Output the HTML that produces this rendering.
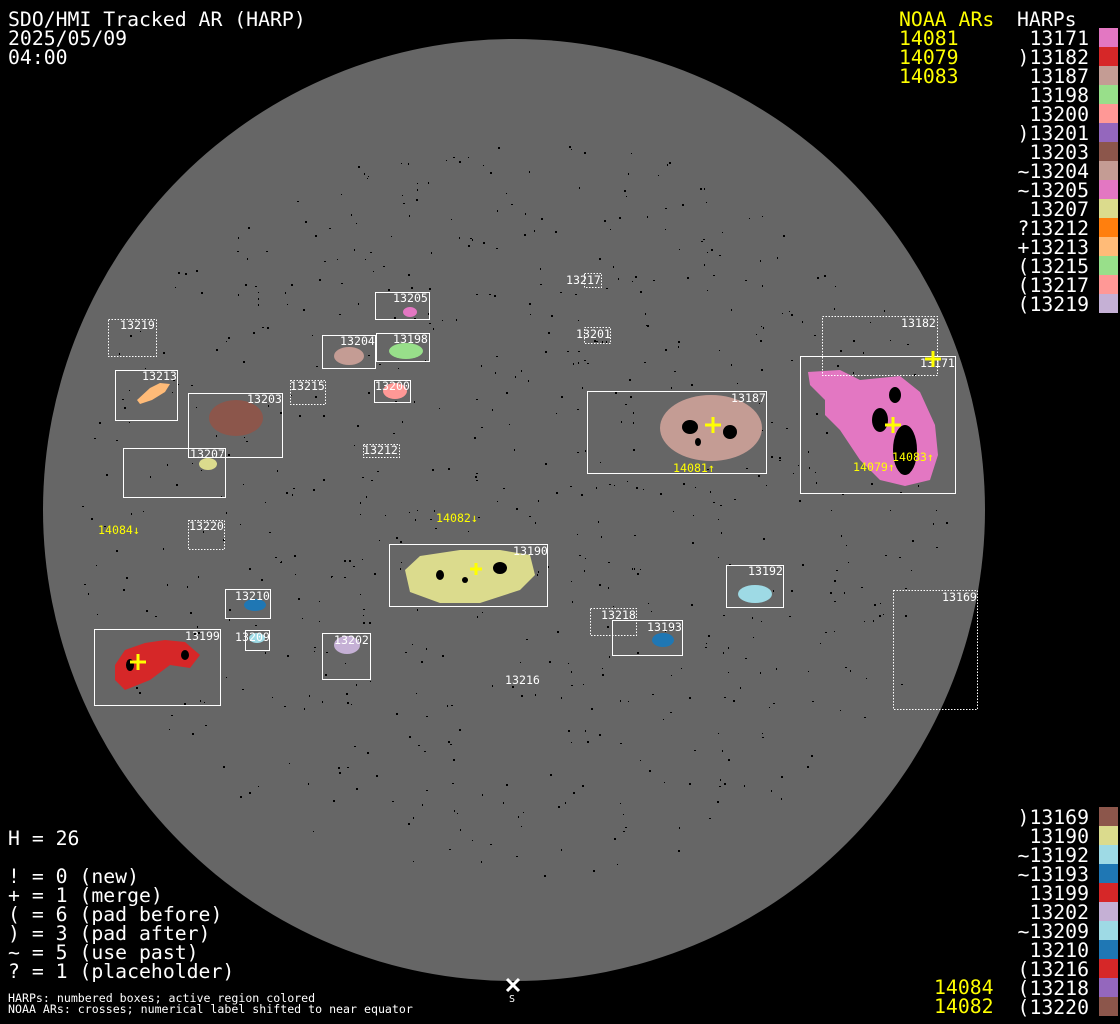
<!DOCTYPE html>
<html><head><meta charset="utf-8"><style>
html,body{margin:0;padding:0;background:#000;}
svg{display:block}
.b{font-family:"DejaVu Sans Mono","Liberation Mono",monospace;font-size:19.8px;fill:#fff}
.y{fill:#ffff00}
.s{font-family:"DejaVu Sans Mono","Liberation Mono",monospace;font-size:11.6px;fill:#fff}
.sy{font-family:"DejaVu Sans Mono","Liberation Mono",monospace;font-size:11.6px;fill:#ffff00}
.bx{fill:none;stroke:#fff;stroke-width:1}
.dt{fill:none;stroke:#fff;stroke-width:1;stroke-dasharray:1.5 1.5}
</style></head><body>
<svg id="s" width="1120" height="1024" viewBox="0 0 1120 1024" xmlns="http://www.w3.org/2000/svg">
<rect width="1120" height="1024" fill="#000"/>
<circle cx="514" cy="510" r="471" fill="#666"/>
<g id="dots"></g>
<ellipse cx="410" cy="312" rx="7" ry="5" fill="#e377c2"/>
<ellipse cx="349" cy="356" rx="15" ry="9" fill="#c49c94"/>
<ellipse cx="406" cy="351" rx="17" ry="8" fill="#98df8a"/>
<ellipse cx="395" cy="391" rx="12" ry="8" fill="#ff9896"/>
<path d="M137,400 L150,388 L160,383 L170,384 L165,392 L152,400 L140,404Z" fill="#ffbb78"/>
<ellipse cx="236" cy="418" rx="27" ry="18" fill="#8c564b"/>
<ellipse cx="711" cy="428" rx="51" ry="33" fill="#c49c94"/>
<path d="M808,372 L840,370 L860,380 L900,376 L920,392 L935,425 L938,455 L930,480 L905,486 L880,480 L860,460 L840,430 L825,415 L825,400 L810,385Z" fill="#e377c2"/>
<ellipse cx="208" cy="464" rx="9" ry="6" fill="#dbdb8d"/>
<path d="M405,570 L420,556 L460,550 L500,550 L530,555 L535,575 L520,590 L480,603 L440,603 L410,592Z" fill="#dbdb8d"/>
<ellipse cx="755" cy="594" rx="17" ry="9" fill="#9edae5"/>
<ellipse cx="255" cy="605" rx="11" ry="6" fill="#1f77b4"/>
<ellipse cx="663" cy="640" rx="11" ry="7" fill="#1f77b4"/>
<ellipse cx="257" cy="638" rx="8" ry="5" fill="#9edae5"/>
<ellipse cx="347" cy="645" rx="13" ry="9" fill="#c5b0d5"/>
<path d="M115,665 L125,650 L145,643 L165,640 L185,642 L200,655 L190,668 L170,665 L150,680 L125,690 L115,680Z" fill="#d62728"/>
<g fill="#000">
<ellipse cx="690" cy="427" rx="8" ry="7"/><ellipse cx="730" cy="432" rx="7" ry="7"/><ellipse cx="698" cy="442" rx="3" ry="4"/>
<ellipse cx="905" cy="450" rx="12" ry="25"/><ellipse cx="880" cy="420" rx="8" ry="12"/><ellipse cx="895" cy="395" rx="6" ry="8"/>
<ellipse cx="500" cy="568" rx="7" ry="6"/><ellipse cx="440" cy="575" rx="4" ry="5"/><ellipse cx="465" cy="580" rx="3" ry="3"/>
<ellipse cx="130" cy="665" rx="4" ry="6"/><ellipse cx="185" cy="655" rx="4" ry="5"/>
</g>
<rect class="bx" x="375.5" y="292.5" width="54" height="27"/><text class="s" x="393" y="302">13205</text>
<rect class="dt" x="108.5" y="319.5" width="48" height="37"/><text class="s" x="120" y="329">13219</text>
<rect class="bx" x="322.5" y="335.5" width="53" height="33"/><text class="s" x="340" y="345">13204</text>
<rect class="bx" x="376.5" y="333.5" width="53" height="28"/><text class="s" x="393" y="343">13198</text>
<rect class="dt" x="584.5" y="273.5" width="17" height="14"/><text class="s" x="566" y="284">13217</text>
<rect class="dt" x="584.5" y="327.5" width="26" height="16"/><text class="s" x="576" y="338">13201</text>
<rect class="dt" x="822.5" y="316.5" width="115" height="59"/><text class="s" x="901" y="327">13182</text>
<rect class="bx" x="800.5" y="356.5" width="155" height="137"/><text class="s" x="920" y="367">13171</text>
<rect class="bx" x="115.5" y="370.5" width="62" height="50"/><text class="s" x="142" y="380">13213</text>
<rect class="dt" x="290.5" y="380.5" width="35" height="24"/><text class="s" x="290" y="390">13215</text>
<rect class="bx" x="374.5" y="380.5" width="36" height="22"/><text class="s" x="375" y="390">13200</text>
<rect class="bx" x="188.5" y="393.5" width="94" height="64"/><text class="s" x="247" y="403">13203</text>
<rect class="bx" x="587.5" y="391.5" width="179" height="82"/><text class="s" x="731" y="402">13187</text>
<rect class="dt" x="363.5" y="444.5" width="36" height="13"/><text class="s" x="363" y="454">13212</text>
<rect class="bx" x="123.5" y="448.5" width="102" height="49"/><text class="s" x="190" y="458">13207</text>
<rect class="dt" x="188.5" y="520.5" width="36" height="29"/><text class="s" x="189" y="530">13220</text>
<rect class="bx" x="389.5" y="544.5" width="158" height="62"/><text class="s" x="513" y="555">13190</text>
<rect class="bx" x="726.5" y="565.5" width="57" height="42"/><text class="s" x="748" y="575">13192</text>
<rect class="dt" x="893.5" y="590.5" width="84" height="119"/><text class="s" x="942" y="601">13169</text>
<rect class="bx" x="225.5" y="589.5" width="45" height="29"/><text class="s" x="235" y="600">13210</text>
<rect class="dt" x="590.5" y="608.5" width="46" height="27"/><text class="s" x="601" y="619">13218</text>
<rect class="bx" x="612.5" y="620.5" width="70" height="35"/><text class="s" x="647" y="631">13193</text>
<rect class="bx" x="245.5" y="630.5" width="24" height="20"/><text class="s" x="235" y="641">13209</text>
<rect class="bx" x="322.5" y="633.5" width="48" height="46"/><text class="s" x="334" y="644">13202</text>
<rect class="bx" x="94.5" y="629.5" width="126" height="76"/><text class="s" x="185" y="640">13199</text>
<text class="s" x="505" y="684">13216</text>
<text class="sy" x="436" y="522">14082↓</text>
<text class="sy" x="98" y="534">14084↓</text>
<text class="sy" x="673" y="472">14081↑</text>
<text class="sy" x="853" y="471">14079↑</text>
<text class="sy" x="892" y="461">14083↑</text>
<g stroke="#ffff00" stroke-width="3">
<path d="M705,425h16M713,417v16"/><path d="M885,425h16M893,417v16"/><path d="M925,359h16M933,351v16"/><path d="M130,662h16M138,654v16"/><path d="M470,569h12M476,563v12"/>
</g>
<path d="M507,979l12,12M519,979l-12,12" stroke="#fff" stroke-width="3"/>
<text class="s" x="509" y="1002" style="font-size:10px">S</text>
<text class="b" x="8" y="26">SDO/HMI Tracked AR (HARP)</text>
<text class="b" x="8" y="45">2025/05/09</text>
<text class="b" x="8" y="64">04:00</text>
<text class="b y" x="899" y="26">NOAA ARs</text>
<text class="b y" x="899" y="45">14081</text>
<text class="b y" x="899" y="64">14079</text>
<text class="b y" x="899" y="83">14083</text>
<text class="b" x="1017" y="26">HARPs</text>
<g>
<rect x="1099" y="28" width="19" height="19" fill="#e377c2"/>
<rect x="1099" y="47" width="19" height="19" fill="#d62728"/>
<rect x="1099" y="66" width="19" height="19" fill="#c49c94"/>
<rect x="1099" y="85" width="19" height="19" fill="#98df8a"/>
<rect x="1099" y="104" width="19" height="19" fill="#ff9896"/>
<rect x="1099" y="123" width="19" height="19" fill="#9467bd"/>
<rect x="1099" y="142" width="19" height="19" fill="#8c564b"/>
<rect x="1099" y="161" width="19" height="19" fill="#c49c94"/>
<rect x="1099" y="180" width="19" height="19" fill="#e377c2"/>
<rect x="1099" y="199" width="19" height="19" fill="#dbdb8d"/>
<rect x="1099" y="218" width="19" height="19" fill="#ff7f0e"/>
<rect x="1099" y="237" width="19" height="19" fill="#ffbb78"/>
<rect x="1099" y="256" width="19" height="19" fill="#98df8a"/>
<rect x="1099" y="275" width="19" height="19" fill="#ff9896"/>
<rect x="1099" y="294" width="19" height="19" fill="#c5b0d5"/>
<rect x="1099" y="807" width="19" height="19" fill="#8c564b"/>
<rect x="1099" y="826" width="19" height="19" fill="#dbdb8d"/>
<rect x="1099" y="845" width="19" height="19" fill="#9edae5"/>
<rect x="1099" y="864" width="19" height="19" fill="#1f77b4"/>
<rect x="1099" y="883" width="19" height="19" fill="#d62728"/>
<rect x="1099" y="902" width="19" height="19" fill="#c5b0d5"/>
<rect x="1099" y="921" width="19" height="19" fill="#9edae5"/>
<rect x="1099" y="940" width="19" height="19" fill="#1f77b4"/>
<rect x="1099" y="959" width="19" height="19" fill="#d62728"/>
<rect x="1099" y="978" width="19" height="19" fill="#9467bd"/>
<rect x="1099" y="997" width="19" height="19" fill="#8c564b"/>
</g>
<g class="b" text-anchor="end">
<text x="1089" y="45">13171</text>
<text x="1089" y="64">)13182</text>
<text x="1089" y="83">13187</text>
<text x="1089" y="102">13198</text>
<text x="1089" y="121">13200</text>
<text x="1089" y="140">)13201</text>
<text x="1089" y="159">13203</text>
<text x="1089" y="178">~13204</text>
<text x="1089" y="197">~13205</text>
<text x="1089" y="216">13207</text>
<text x="1089" y="235">?13212</text>
<text x="1089" y="254">+13213</text>
<text x="1089" y="273">(13215</text>
<text x="1089" y="292">(13217</text>
<text x="1089" y="311">(13219</text>
<text x="1089" y="824">)13169</text>
<text x="1089" y="843">13190</text>
<text x="1089" y="862">~13192</text>
<text x="1089" y="881">~13193</text>
<text x="1089" y="900">13199</text>
<text x="1089" y="919">13202</text>
<text x="1089" y="938">~13209</text>
<text x="1089" y="957">13210</text>
<text x="1089" y="976">(13216</text>
<text x="1089" y="995">(13218</text>
<text x="1089" y="1014">(13220</text>
</g>
<text class="b" x="8" y="845">H = 26</text>
<text class="b" x="8" y="883">! = 0 (new)</text>
<text class="b" x="8" y="902">+ = 1 (merge)</text>
<text class="b" x="8" y="921">( = 6 (pad before)</text>
<text class="b" x="8" y="940">) = 3 (pad after)</text>
<text class="b" x="8" y="959">~ = 5 (use past)</text>
<text class="b" x="8" y="978">? = 1 (placeholder)</text>
<text class="s" x="8" y="1002">HARPs: numbered boxes; active region colored</text>
<text class="s" x="8" y="1013">NOAA ARs: crosses; numerical label shifted to near equator</text>
<text class="b y" x="934" y="994">14084</text>
<text class="b y" x="934" y="1013">14082</text>
</svg>
<script>
(function(){
var NS="http://www.w3.org/2000/svg";
var d=document.getElementById("dots"),seed=7;function rnd(){seed=(seed*16807)%2147483647;return seed/2147483647;}
for(var i=0;i<700;i++){var a=rnd()*6.283,rr=Math.sqrt(rnd())*440;var x=514+rr*Math.cos(a),y=510+rr*Math.sin(a)*0.85;var r=document.createElementNS(NS,"rect");r.setAttribute("x",x|0);r.setAttribute("y",y|0);r.setAttribute("width",1+(rnd()*2|0));r.setAttribute("height",1+(rnd()*2|0));r.setAttribute("fill","#000");d.appendChild(r);}
})();
</script>
</body></html>
